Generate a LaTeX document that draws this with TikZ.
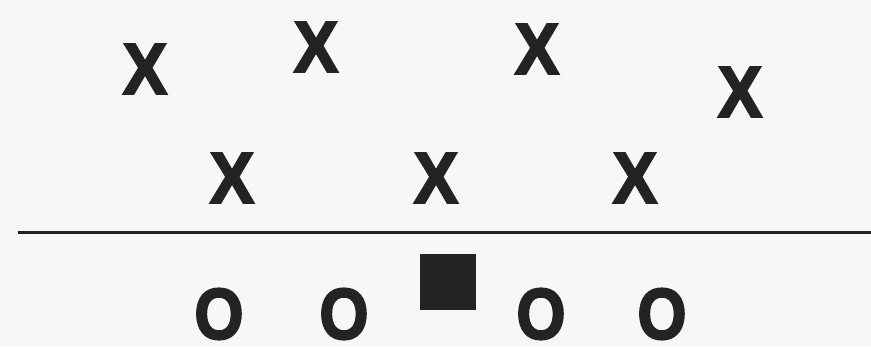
\documentclass[tikz,border=0pt]{standalone}
\usepackage{fontspec}
\newfontfamily\heavy{Liberation Sans}[FakeBold=3]
\definecolor{ink}{HTML}{232323}
\definecolor{paper}{HTML}{F7F7F7}
\begin{document}
\begin{tikzpicture}[x=1pt,y=-1pt,
  player/.style={inner sep=0pt, text=ink, font=\heavy\bfseries\fontsize{72}{72}\selectfont, xscale=0.92},
  center/.style={fill=ink, minimum size=56pt, inner sep=0pt}]
\fill[paper] (0,0) rectangle (871,346);
\useasboundingbox (0,0) rectangle (871,346);
\node[player] (d1) at (145,69) {X};
\node[player] (d2) at (316,47) {X};
\node[player] (d3) at (537,49) {X};
\node[player] (d4) at (740,92) {X};
\node[player] (d5) at (232,178) {X};
\node[player] (d6) at (436,178) {X};
\node[player] (d7) at (635,178) {X};
\coordinate (l1) at (18,232);
\coordinate (l2) at (871,232);
\draw[ink, line width=3pt] (l1) -- (l2);
\node[center] (c) at (448,282) {};
\node[player, xscale=0.95] (o1) at (219,314) {O};
\node[player, xscale=0.95] (o2) at (344,314) {O};
\node[player, xscale=0.95] (o3) at (541,314) {O};
\node[player, xscale=0.95] (o4) at (662,314) {O};
\end{tikzpicture}
\end{document}
